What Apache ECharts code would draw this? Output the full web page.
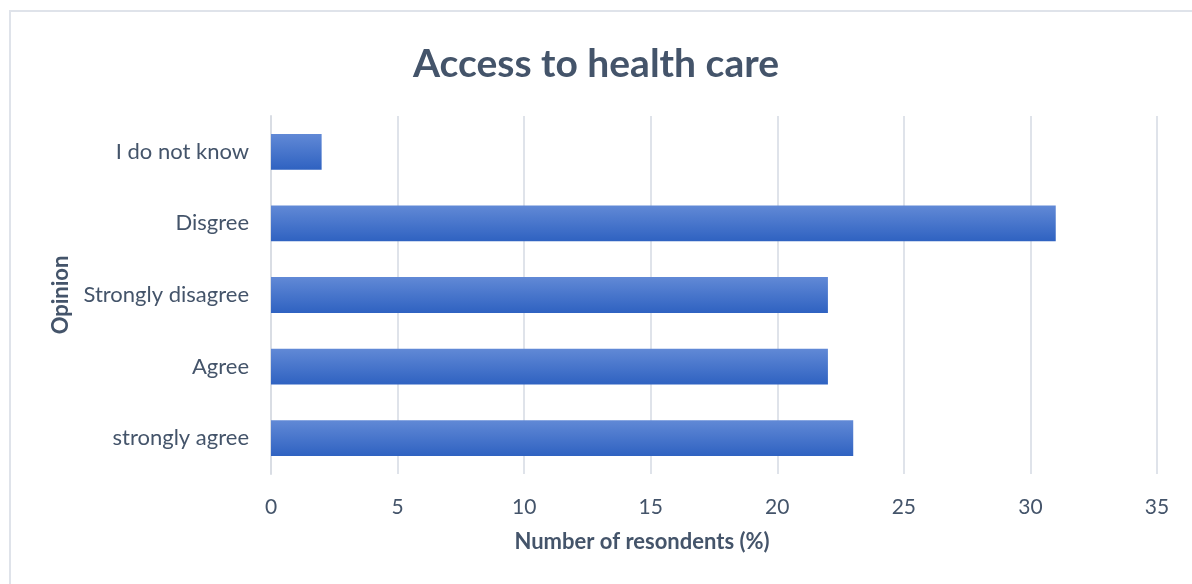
<!DOCTYPE html>
<html>
<head>
<meta charset="utf-8">
<script src="https://cdn.jsdelivr.net/npm/echarts@6/dist/echarts.min.js"></script>
<style>
  html, body { margin: 0; padding: 0; background: #fff; }
  #frame { position: absolute; left: 9px; top: 10px; width: 1190px; height: 580px; border: 2px solid #dfe3ea; box-sizing: border-box; }
  #chart { position: absolute; left: 0; top: 0; width: 1192px; height: 584px; }
</style>
</head>
<body>
<div id="frame"></div>
<div id="chart"></div>
<script>
// Survey responses, listed bottom to top on the category axis
const categories = ['strongly agree', 'Agree', 'Strongly disagree', 'Disgree', 'I do not know'];
const respondents = [23, 22, 22, 31, 2];
const xTicks = [0, 5, 10, 15, 20, 25, 30, 35];

const textColor = '#44546a';
const font = 'Lato, "Open Sans", sans-serif';

const chart = echarts.init(document.getElementById('chart'));
chart.setOption({
  animation: false,
  title: {
    text: 'Access to health care',
    left: 'center',
    top: 40,
    textStyle: { color: textColor, fontSize: 39, fontWeight: 'bold', fontFamily: font }
  },
  grid: { left: 271, right: 35, top: 116, bottom: 110, containLabel: false },
  xAxis: {
    type: 'value',
    min: xTicks[0],
    max: xTicks[xTicks.length - 1],
    interval: 5,
    name: 'Number of resondents (%)',
    nameLocation: 'middle',
    nameGap: 57,
    // axis title sits centred under the whole chart rather than the plot area
    nameTextStyle: { color: textColor, fontSize: 22, fontWeight: 'bold', fontFamily: font, padding: [0, 144, 0, 0] },
    axisLine: { show: false },
    axisTick: { show: false },
    axisLabel: { color: textColor, fontSize: 21, fontFamily: font, margin: 23 },
    splitLine: { lineStyle: { color: '#dfe3ea', width: 2 } }
  },
  yAxis: {
    type: 'category',
    data: categories,
    name: 'Opinion',
    nameLocation: 'middle',
    nameGap: 199,
    nameRotate: 90,
    nameTextStyle: { color: textColor, fontSize: 22, fontWeight: 'bold', fontFamily: font },
    axisLine: { show: true, lineStyle: { color: '#d9dde4', width: 2 } },
    axisTick: { show: false },
    axisLabel: { color: textColor, fontSize: 22, fontFamily: font, margin: 22 }
  },
  series: [{
    type: 'bar',
    data: respondents,
    barWidth: '50%',
    itemStyle: {
      color: new echarts.graphic.LinearGradient(0, 0, 0, 1, [
        { offset: 0, color: '#6189d6' },
        { offset: 1, color: '#2f62c1' }
      ])
    }
  }]
});
</script>
</body>
</html>
